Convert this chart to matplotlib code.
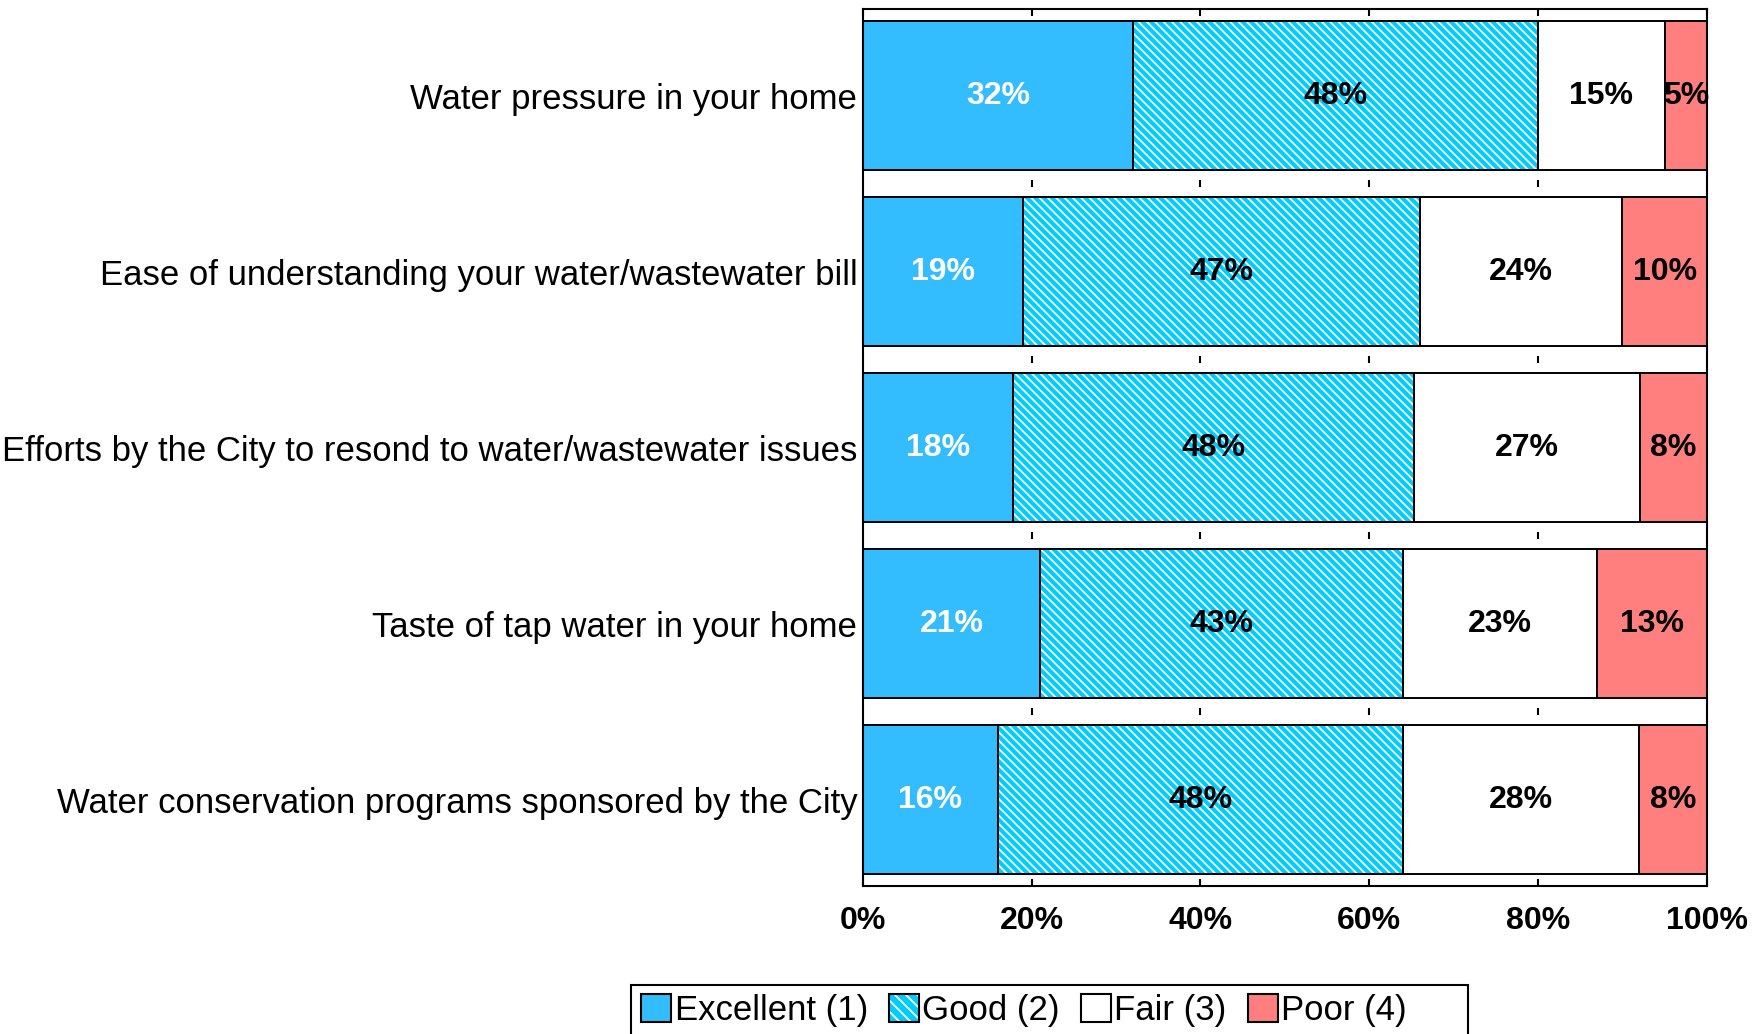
import numpy as np
import matplotlib
matplotlib.use("Agg")
import matplotlib.pyplot as plt
from matplotlib.patches import Patch, Rectangle

# Survey items, top to bottom
categories = [
    "Water pressure in your home",
    "Ease of understanding your water/wastewater bill",
    "Efforts by the City to resond to water/wastewater issues",
    "Taste of tap water in your home",
    "Water conservation programs sponsored by the City",
]
# Percent of respondents per rating
excellent = [32, 19, 18, 21, 16]
good = [48, 47, 48, 43, 48]
fair = [15, 24, 27, 23, 28]
poor = [5, 10, 8, 13, 8]
series_names = ["Excellent (1)", "Good (2)", "Fair (3)", "Poor (4)"]
xticks = [0, 20, 40, 60, 80, 100]
xtick_labels = ["0%", "20%", "40%", "60%", "80%", "100%"]

c_exc = "#33BDFF"
c_good = "#00CCFF"
c_fair = "#FFFFFF"
c_poor = "#FF7F7F"
hatch = "\\\\\\\\"

plt.rcParams["font.family"] = ["Liberation Sans", "DejaVu Sans"]
plt.rcParams["hatch.linewidth"] = 1.3

fig = plt.figure(figsize=(17.6, 10.34), dpi=100)
ax = fig.add_axes([0.4903, 0.143, 0.4795, 0.848])

vals = np.array([excellent, good, fair, poor], dtype=float)
shares = vals / vals.sum(axis=0) * 100  # 100% stacked
lefts = np.vstack([np.zeros(vals.shape[1]), np.cumsum(shares, axis=0)[:-1]])
y = np.arange(len(categories))
h = 0.847
edge_lw = 1.4

# Excellent
ax.barh(y, shares[0], left=lefts[0], height=h, color=c_exc,
        edgecolor="black", linewidth=edge_lw, zorder=2)
# Good: hatched fill with white lines, then black outline
ax.barh(y, shares[1], left=lefts[1], height=h, color=c_good,
        edgecolor="white", hatch=hatch, linewidth=0, zorder=2)
ax.barh(y, shares[1], left=lefts[1], height=h, fill=False,
        edgecolor="black", linewidth=edge_lw, zorder=3)
# Fair
ax.barh(y, shares[2], left=lefts[2], height=h, color=c_fair,
        edgecolor="black", linewidth=edge_lw, zorder=2)
# Poor
ax.barh(y, shares[3], left=lefts[3], height=h, color=c_poor,
        edgecolor="black", linewidth=edge_lw, zorder=2)

# Value labels
label_colors = ["white", "black", "black", "black"]
for s in range(vals.shape[0]):
    for i in range(vals.shape[1]):
        ax.text(lefts[s, i] + shares[s, i] / 2, y[i], f"{int(vals[s, i])}%",
                ha="center", va="center", fontsize=23, fontweight="bold",
                color=label_colors[s], zorder=5)

ax.set_xlim(0, 100)
ax.set_ylim(len(categories) - 0.51, -0.49)

# Minor marks in the gaps between bars
for g in y[:-1] + 0.5:
    ax.vlines(xticks[1:-1], g - 0.02, g + 0.02, color="black", lw=1.5, zorder=1)

ax.set_xticks(xticks, xtick_labels)
ax.tick_params(axis="x", direction="in", top=True, bottom=True, length=5,
               width=1.5, pad=14, labelsize=23)
for lbl in ax.get_xticklabels():
    lbl.set_fontweight("bold")

ax.set_yticks(y, categories)
ax.tick_params(axis="y", length=0, pad=4, labelsize=25)

for sp in ax.spines.values():
    sp.set_linewidth(1.5)
    sp.set_color("black")

# Legend: entries without frame, plus a separate box that runs off the bottom
handles = [
    Patch(facecolor=c_exc, edgecolor="black", linewidth=1.5),
    (Patch(facecolor=c_good, edgecolor="white", hatch="\\\\\\", linewidth=0),
     Patch(fill=False, edgecolor="black", linewidth=1.5)),
    Patch(facecolor=c_fair, edgecolor="black", linewidth=1.5),
    Patch(facecolor=c_poor, edgecolor="black", linewidth=1.5),
]
leg = fig.legend(handles, series_names, loc="center left",
                 bbox_to_anchor=(0.3642, 0.0225), ncol=4, frameon=False,
                 fontsize=25, handlelength=0.87, handleheight=0.87,
                 handletextpad=0.1, columnspacing=0.6, borderpad=0,
                 borderaxespad=0)
fig.patches.append(Rectangle((631 / 1760, -0.05), (1468 - 631) / 1760,
                             0.0474 + 0.05, transform=fig.transFigure,
                             fill=False, edgecolor="black", linewidth=1.5))

fig.savefig("out.png", dpi=100)
